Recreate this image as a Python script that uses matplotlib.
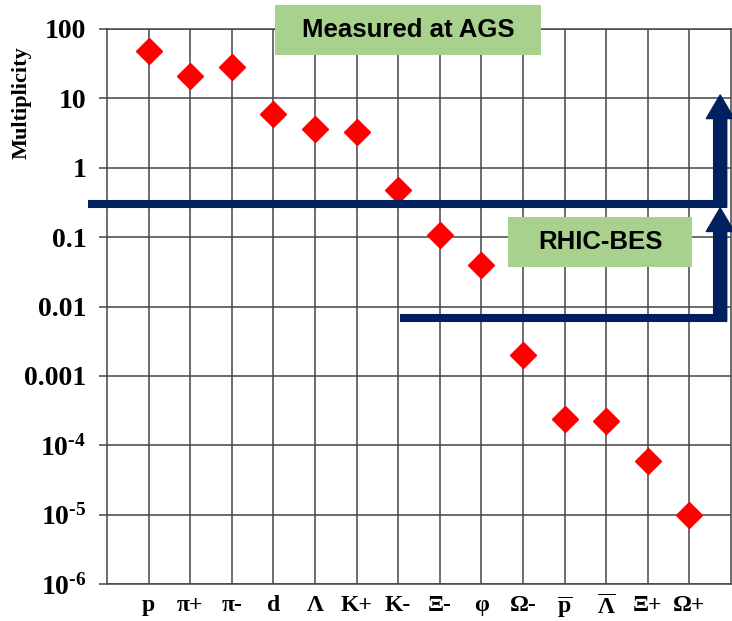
import matplotlib
matplotlib.use('Agg')
import matplotlib.pyplot as plt
from matplotlib.patches import Rectangle

# Particle species and their multiplicities (log scale)
particles = ['p', 'π+', 'π-', 'd', 'Λ', 'K+', 'K-', 'Ξ-', 'φ', 'Ω-',
             r'$\mathbf{\overline{p}}$', r'$\mathbf{\overline{Λ}}$', 'Ξ+', 'Ω+']
multiplicity = [48, 21, 28, 6.0, 3.6, 3.3, 0.48, 0.107, 0.040, 0.0020,
                2.4e-4, 2.2e-4, 6.0e-5, 1.0e-5]

ytick_vals = [1e2, 1e1, 1, 0.1, 0.01, 0.001, 1e-4, 1e-5, 1e-6]
ytick_labels = ['100', '10', '1', '0.1', '0.01', '0.001',
                r'$\mathbf{10^{\text{-}4}}$', r'$\mathbf{10^{\text{-}5}}$',
                r'$\mathbf{10^{\text{-}6}}$']

plt.rcParams['mathtext.fontset'] = 'custom'
plt.rcParams['mathtext.rm'] = 'Liberation Serif:bold'
plt.rcParams['mathtext.bf'] = 'Liberation Serif:bold'

navy = '#002060'
green = '#a9d18e'
gridc = '#454545'

fig = plt.figure(figsize=(7.32, 6.21), dpi=100)
ax = fig.add_axes([107/732, 37/621, 624/732, 555/621])

x = list(range(len(particles)))
ax.plot(x, multiplicity, linestyle='none', marker='D', color='red',
        markersize=13.5, zorder=5)

ax.set_yscale('log')
ax.set_ylim(1e-6, 1e2)
ax.set_xlim(-1, len(particles))
ax.set_yticks(ytick_vals)
ax.set_yticklabels(ytick_labels, fontfamily='Liberation Serif',
                   fontweight='bold', fontsize=20)
ax.yaxis.set_minor_locator(plt.NullLocator())
ax.set_xticks(x)
ax.set_xticklabels(particles, fontfamily='Liberation Serif',
                   fontweight='bold', fontsize=17)
ax.tick_params(axis='x', length=0, pad=8)
ax.tick_params(axis='y', length=6, width=1.1, color=gridc, pad=9)
ax.grid(True, color=gridc, linewidth=1.1)
for s in ax.spines.values():
    s.set_color(gridc)
    s.set_linewidth(1.1)

fig.text(22/732, 1 - 103/621, 'Multiplicity', rotation=90,
         fontfamily='Liberation Serif', fontweight='bold', fontsize=16,
         ha='center', va='center')

# AGS / RHIC-BES reach lines with arrows
ax.plot([-1.46, 13.9], [0.3, 0.3], color=navy, lw=5.8,
        solid_capstyle='butt', clip_on=False, zorder=6)
ax.plot([6.04, 13.9], [0.0069, 0.0069], color=navy, lw=5.8,
        solid_capstyle='butt', clip_on=False, zorder=6)
arrow_style = 'simple,head_length=0.85,head_width=1.0,tail_width=0.47'
ax.annotate('', xy=(13.74, 11.2), xytext=(13.74, 0.27),
            arrowprops=dict(arrowstyle=arrow_style, color=navy,
                            mutation_scale=20, shrinkA=0, shrinkB=0),
            annotation_clip=False, zorder=7)
ax.annotate('', xy=(13.74, 0.264), xytext=(13.74, 0.0062),
            arrowprops=dict(arrowstyle=arrow_style, color=navy,
                            mutation_scale=20, shrinkA=0, shrinkB=0),
            annotation_clip=False, zorder=7)

# green labels
def label_box(x0, y0, x1, y1, text):
    fig.patches.append(Rectangle((x0/732, 1 - y1/621), (x1 - x0)/732,
                                 (y1 - y0)/621, transform=fig.transFigure,
                                 facecolor=green, edgecolor='none', zorder=8))
    fig.text((x0 + x1)/2/732, 1 - (y0 + y1)/2/621, text,
             fontfamily='Liberation Sans', fontweight='bold', fontsize=18.5,
             ha='center', va='center', zorder=9)

label_box(275, 5, 541, 55, 'Measured at AGS')
label_box(508, 217, 692, 267, 'RHIC-BES')

plt.savefig('out.png', dpi=100)
